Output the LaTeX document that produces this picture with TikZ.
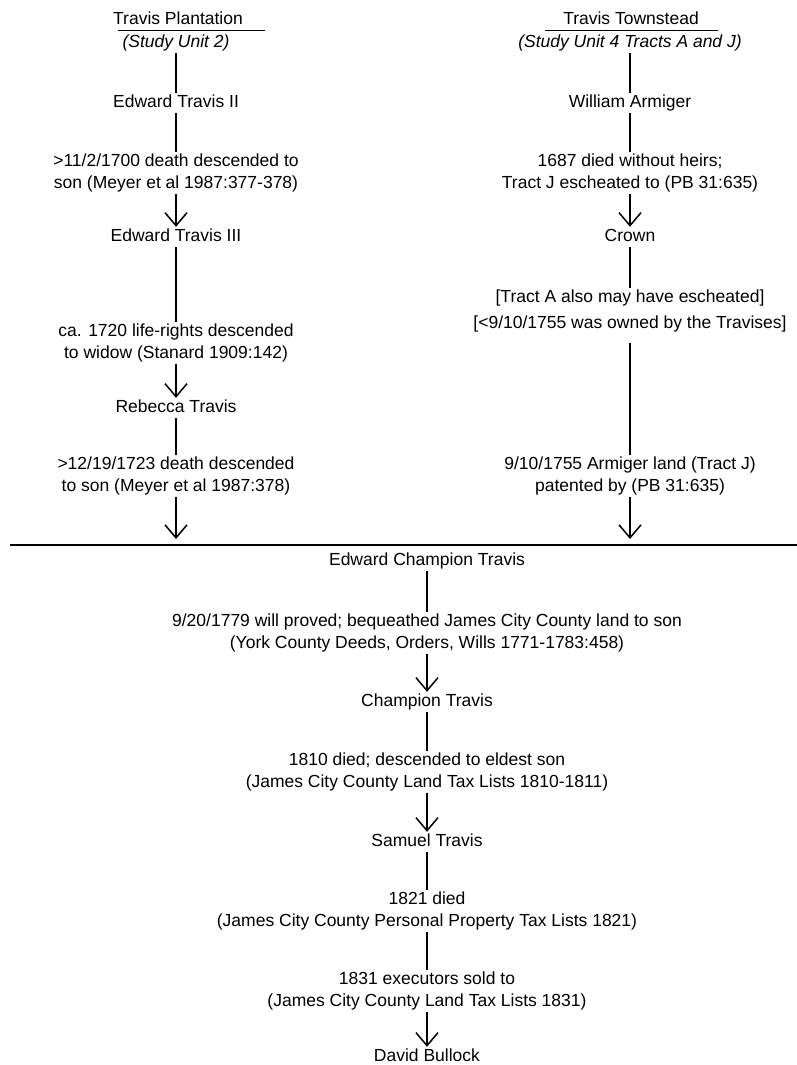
\documentclass[tikz,border=0pt]{standalone}
\usepackage{fontspec}
\setmainfont{Liberation Sans}
\usetikzlibrary{arrows.meta}
% fixed line strut so that every text line has the same box
\newcommand\lnst{\rule[-4pt]{0pt}{17pt}}
\begin{document}
\begin{tikzpicture}[x=1pt,y=-1pt,
  lbl/.style={align=center,font=\fontsize{17.5}{21.5}\selectfont,inner xsep=0pt,inner ysep=1.5pt},
  link/.style={line width=1.5pt},
  arr/.style={link,-{Straight Barb[length=13pt,width=22pt,line width=1.5pt]}},
  rule/.style={line width=1.1pt}]
\useasboundingbox (0,0) rectangle (797,1065);

% ---- Travis Plantation ----
\node[lbl] (lt)  at (178,20)  {\lnst Travis Plantation};
\node[lbl] (ls)  at (176,43)  {\lnst\itshape (Study Unit 2)};
\node[lbl] (le2) at (176,103) {\lnst Edward Travis II};
\node[lbl] (ld1) at (176,173) {\lnst >11/2/1700 death descended to\\\lnst son (Meyer et al 1987:377-378)};
\node[lbl] (le3) at (176,237) {\lnst Edward Travis III};
\node[lbl] (ld2) at (176,343) {\lnst ca. 1720 life-rights descended\\\lnst to widow (Stanard 1909:142)};
\node[lbl] (lr)  at (176,408) {\lnst Rebecca Travis};
\node[lbl] (ld3) at (176,476) {\lnst >12/19/1723 death descended\\\lnst to son (Meyer et al 1987:378)};
\coordinate (lend) at (176,539);

% ---- Travis Townstead ----
\node[lbl] (rt)  at (631,20)  {\lnst Travis Townstead};
\node[lbl] (rs)  at (630,43)  {\lnst\itshape (Study Unit 4 Tracts A and J)};
\node[lbl] (rw)  at (630,103) {\lnst William Armiger};
\node[lbl] (rd1) at (630,173) {\lnst 1687 died without heirs;\\\lnst Tract J escheated to (PB 31:635)};
\node[lbl] (rc)  at (630,237) {\lnst Crown};
\node[lbl,font=\fontsize{17.5}{26}\selectfont] (rb) at (630,311)
  {\lnst [Tract A also may have escheated]\\\lnst [<9/10/1755 was owned by the Travises]};
\node[lbl] (rd2) at (630,476) {\lnst 9/10/1755 Armiger land (Tract J)\\\lnst patented by (PB 31:635)};
\coordinate (rend) at (630,539);

% ---- joint line of descent ----
\node[lbl] (b1) at (427,561)  {\lnst Edward Champion Travis};
\node[lbl] (b2) at (427,633)  {\lnst 9/20/1779 will proved; bequeathed James City County land to son\\\lnst (York County Deeds, Orders, Wills 1771-1783:458)};
\node[lbl] (b3) at (427,702)  {\lnst Champion Travis};
\node[lbl] (b4) at (427,772)  {\lnst 1810 died; descended to eldest son\\\lnst (James City County Land Tax Lists 1810-1811)};
\node[lbl] (b5) at (427,842)  {\lnst Samuel Travis};
\node[lbl] (b6) at (427,911)  {\lnst 1821 died\\\lnst (James City County Personal Property Tax Lists 1821)};
\node[lbl] (b7) at (427,991)  {\lnst 1831 executors sold to\\\lnst (James City County Land Tax Lists 1831)};
\node[lbl] (b8) at (427,1057) {\lnst David Bullock};

% title underlines and divider
\draw[rule] ([xshift=-60pt]lt.south) -- ([xshift=87pt]lt.south);
\draw[rule] ([xshift=-86pt]rt.south) -- ([xshift=87pt]rt.south);
\coordinate (dvl) at (10,545);
\coordinate (dvr) at (797,545);
\draw[rule] (dvl) -- (dvr);

% connectors, left
\draw[link] (ls) -- (le2);
\draw[link] (le2) -- (ld1);
\draw[arr]  (ld1) -- (le3);
\draw[link] (le3) -- (ld2);
\draw[arr]  (ld2) -- (lr);
\draw[link] (lr) -- (ld3);
\draw[arr]  (ld3) -- (lend);

% connectors, right
\draw[link] (rs) -- (rw);
\draw[link] (rw) -- (rd1);
\draw[arr]  (rd1) -- (rc);
\draw[link] (rc) -- (rb);
\draw[link,shorten <=9pt] (rb) -- (rd2);
\draw[arr]  (rd2) -- (rend);

% connectors, bottom
\draw[link] (b1) -- (b2);
\draw[arr]  (b2) -- (b3);
\draw[link] (b3) -- (b4);
\draw[arr]  (b4) -- (b5);
\draw[link] (b5) -- (b6);
\draw[link] (b6) -- (b7);
\draw[arr]  (b7) -- (b8);
\end{tikzpicture}
\end{document}
